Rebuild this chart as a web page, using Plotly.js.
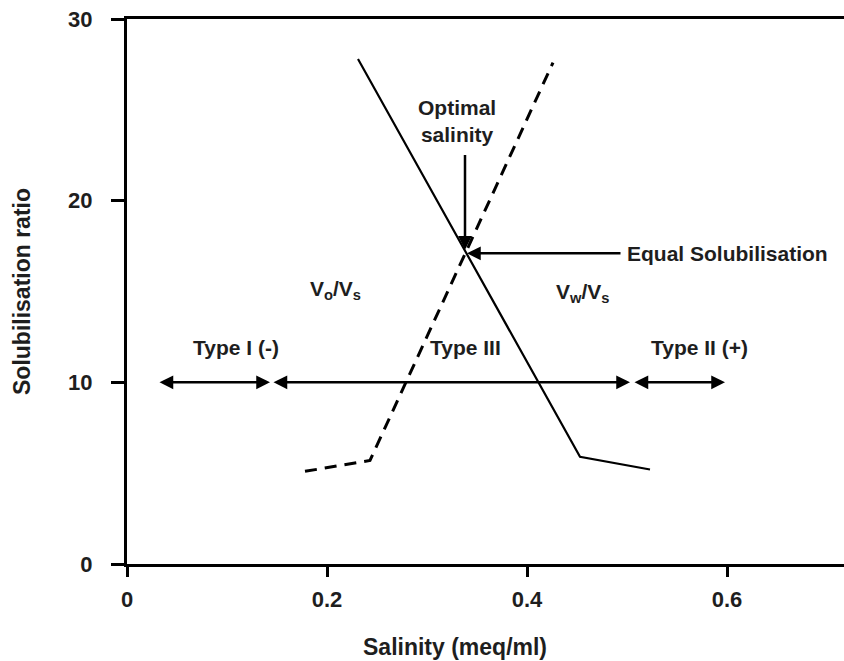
<!DOCTYPE html>
<html>
<head>
<meta charset="utf-8">
<script src="https://cdn.plot.ly/plotly-3.0.1.min.js"></script>
<style>html,body{margin:0;padding:0;background:#fff;}#chart{width:844px;height:661px;}</style>
</head>
<body>
<div id="chart"></div>
<script>
// Data
var waterSalinity = [0.231, 0.453, 0.523];   // Vw/Vs (solid)
var waterRatio    = [27.8, 5.9, 5.2];
var oilSalinity   = [0.178, 0.243, 0.426];   // Vo/Vs (dashed)
var oilRatio      = [5.1, 5.7, 27.6];
var xTickVals = [0, 0.2, 0.4, 0.6];
var xTickText = ['0', '0.2', '0.4', '0.6'];
var yTickVals = [0, 10, 20, 30];
var yTickText = ['0', '10', '20', '30'];
var xTitle = 'Salinity (meq/ml)';
var yTitle = 'Solubilisation ratio';

var FONT = 'Liberation Sans, Arial, Helvetica, sans-serif';
var TXT = '#1e1e1e';

var traces = [
  {x: waterSalinity, y: waterRatio, mode: 'lines', name: 'Vw/Vs',
   line: {color: '#000', width: 2.2}, hoverinfo: 'skip'},
  {x: oilSalinity, y: oilRatio, mode: 'lines', name: 'Vo/Vs',
   line: {color: '#000', width: 3, dash: '12px,8px'}, hoverinfo: 'skip'}
];

function txt(text, x, y, xanchor) {
  return {text: text, x: x, y: y, xref: 'x', yref: 'y', showarrow: false,
          xanchor: xanchor || 'center', yanchor: 'middle',
          font: {family: FONT, size: 21, color: TXT, weight: 'bold'}};
}
function arrow(x0, y0, x1, y1, both) {
  return {x: x1, y: y1, ax: x0, ay: y0, xref: 'x', yref: 'y', axref: 'x', ayref: 'y',
          text: '', showarrow: true, arrowhead: 2, arrowsize: 1.1, arrowwidth: 2.5,
          arrowcolor: '#000', arrowside: both ? 'end+start' : 'end',
          standoff: 0, startstandoff: 0};
}

var annotations = [
  txt('Optimal<br>salinity', 0.330, 24.4),
  txt('Equal Solubilisation', 0.498, 17.1, 'left'),
  txt('V<sub>o</sub>/V<sub>s</sub>', 0.208, 15.1),
  txt('V<sub>w</sub>/V<sub>s</sub>', 0.455, 14.9),
  txt('Type I (-)', 0.109, 11.9),
  txt('Type III', 0.338, 11.9),
  txt('Type II (+)', 0.572, 11.9),
  arrow(0.338, 22.6, 0.338, 17.3, false),
  arrow(0.495, 17.1, 0.340, 17.1, false),
  arrow(0.031, 10.0, 0.143, 10.0, true),
  arrow(0.145, 10.0, 0.503, 10.0, true),
  arrow(0.506, 10.0, 0.598, 10.0, true),
  {text: xTitle, xref: 'paper', yref: 'paper', x: 0.4575, y: -0.152,
   xanchor: 'center', yanchor: 'middle', showarrow: false,
   font: {family: FONT, size: 23, color: TXT, weight: 'bold'}}
];

var layout = {
  width: 844, height: 661,
  margin: {l: 127, r: 0, t: 19, b: 97, pad: 0},
  paper_bgcolor: '#fff', plot_bgcolor: '#fff',
  showlegend: false,
  font: {family: FONT, color: TXT, size: 20},
  xaxis: {
    range: [0, 0.717], showgrid: false, zeroline: false,
    showline: true, linecolor: '#000', linewidth: 3, mirror: true,
    ticks: 'outside', ticklen: 10, tickwidth: 3, tickcolor: '#000',
    tickvals: xTickVals, ticktext: xTickText,
    tickfont: {family: FONT, size: 22, color: TXT, weight: 'bold'},
    ticklabelstandoff: 4
  },
  yaxis: {
    range: [0, 30], showgrid: false, zeroline: false,
    showline: true, linecolor: '#000', linewidth: 3,
    ticks: 'outside', ticklen: 13, tickwidth: 3, tickcolor: '#000',
    tickvals: yTickVals, ticktext: yTickText,
    tickfont: {family: FONT, size: 22, color: TXT, weight: 'bold'},
    ticklabelstandoff: 14,
    title: {text: yTitle, standoff: 32,
            font: {family: FONT, size: 23, color: TXT, weight: 'bold'}}
  },
  annotations: annotations
};

Plotly.newPlot('chart', traces, layout, {staticPlot: true, displayModeBar: false});
</script>
</body>
</html>
